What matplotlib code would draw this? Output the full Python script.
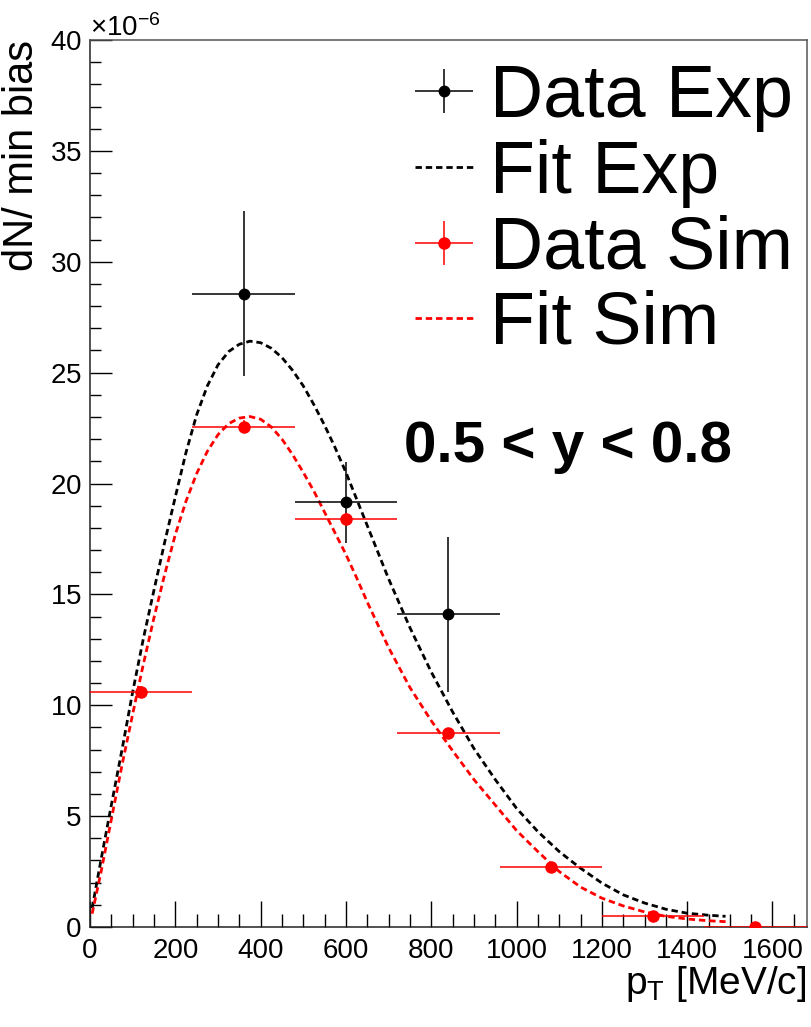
import matplotlib.pyplot as plt
import numpy as np
from matplotlib.ticker import MultipleLocator, ScalarFormatter
from matplotlib.container import ErrorbarContainer
from matplotlib.legend_handler import HandlerErrorbar

plt.rcParams['font.family'] = ['Liberation Sans', 'DejaVu Sans']
plt.rcParams['mathtext.fontset'] = 'custom'
plt.rcParams['mathtext.rm'] = 'Liberation Sans'
plt.rcParams['mathtext.it'] = 'Liberation Sans:italic'
plt.rcParams['mathtext.bf'] = 'Liberation Sans:bold'

# values in units of 1e-6
scale = 1e-6

# bins of 240 MeV/c
pt_exp = [360, 600, 840]
y_exp = [28.55, 19.15, 14.1]
yerr_exp = [3.72, 1.84, 3.5]

pt_sim = [120, 360, 600, 840, 1080, 1320, 1560]
y_sim = [10.6, 22.56, 18.4, 8.75, 2.7, 0.5, 0.02]
yerr_sim = [0.25, 0.3, 0.25, 0.2, 0.15, 0.1, 0.05]
bin_half = 120

# fit curves
pt_fit = [5, 25, 50, 75, 100, 125, 150, 175, 200, 225, 250, 275, 300, 325,
          350, 375, 400, 425, 450, 475, 500, 525, 550, 575, 600, 625, 650,
          700, 750, 800, 850, 900, 950, 1000, 1050, 1100, 1150, 1200, 1250,
          1300, 1350, 1400, 1450, 1490]
fit_exp = [0.85, 2.95, 5.5, 8.0, 10.6, 13.0, 15.2, 17.35, 19.4, 21.4, 23.1,
           24.4, 25.35, 25.95, 26.28, 26.42, 26.35, 26.1, 25.68, 25.1, 24.4,
           23.55, 22.62, 21.6, 20.5, 19.3, 18.1, 15.7, 13.5, 11.5, 9.7, 8.05,
           6.65, 5.35, 4.3, 3.4, 2.65, 1.98, 1.45, 1.08, 0.8, 0.62, 0.53, 0.48]
fit_sim = [0.6, 2.4, 4.85, 7.3, 9.6, 11.85, 13.95, 15.9, 17.7, 19.2, 20.45,
           21.45, 22.2, 22.7, 22.95, 23.02, 22.9, 22.55, 22.0, 21.3, 20.5,
           19.65, 18.7, 17.75, 16.8, 15.75, 14.65, 12.6, 10.8, 9.3, 7.95,
           6.65, 5.5, 4.35, 3.4, 2.5, 1.8, 1.3, 0.95, 0.68, 0.48, 0.36, 0.28,
           0.24]

fig = plt.figure(figsize=(8.11, 10.27), dpi=100)
ax = fig.add_axes([0.111, 0.0974, 0.8836, 0.8636])

h_dexp = ax.errorbar(pt_exp, np.array(y_exp) * scale, xerr=bin_half,
                     yerr=np.array(yerr_exp) * scale, fmt='o', color='black',
                     ms=7.5, elinewidth=1.1, capsize=0, zorder=4)
h_fexp, = ax.plot(pt_fit, np.array(fit_exp) * scale, color='black', lw=2.0,
                  ls=(0, (2.3, 1.4)), zorder=3)
h_dsim = ax.errorbar(pt_sim, np.array(y_sim) * scale, xerr=bin_half,
                     yerr=np.array(yerr_sim) * scale, fmt='o', color='red',
                     ms=8, elinewidth=1.1, capsize=0, zorder=4)
h_fsim, = ax.plot(pt_fit, np.array(fit_sim) * scale, color='red', lw=2.0,
                  ls=(0, (2.3, 1.4)), zorder=3)

ax.set_xlim(0, 1680)
ax.set_ylim(0, 40e-6)

ax.xaxis.set_major_locator(MultipleLocator(200))
ax.xaxis.set_minor_locator(MultipleLocator(50))
ax.yaxis.set_major_locator(MultipleLocator(5e-6))
ax.yaxis.set_minor_locator(MultipleLocator(1e-6))
fmt = ScalarFormatter(useMathText=True)
fmt.set_powerlimits((-6, -6))
ax.yaxis.set_major_formatter(fmt)
ax.yaxis.get_offset_text().set_fontsize(20)

ax.tick_params(axis='both', which='both', direction='in', top=False,
               right=False, labelsize=20, width=1.0)
ax.tick_params(axis='x', which='major', length=19, pad=8)
ax.tick_params(axis='x', which='minor', length=9.5)
ax.tick_params(axis='y', which='major', length=15.5, pad=6)
ax.tick_params(axis='y', which='minor', length=7.7)
for side in ['top', 'right']:
    ax.spines[side].set_linewidth(1.1)
    ax.spines[side].set_color('#555555')
for side in ['left', 'bottom']:
    ax.spines[side].set_linewidth(1.1)
    ax.spines[side].set_color('#222222')

ax.set_xlabel(r'p$_{\mathrm{T}}$ [MeV/c]', fontsize=28, loc='right', labelpad=0)
ax.set_ylabel('dN/ min bias', fontsize=30, loc='top', labelpad=6)

ax.text(736, 20.97e-6, '0.5 < y < 0.8', fontsize=42, fontweight='bold',
        va='baseline', ha='left')

ax.legend([h_dexp, h_fexp, h_dsim, h_fsim],
          ['Data Exp', 'Fit Exp', 'Data Sim', 'Fit Sim'],
          loc='upper left', bbox_to_anchor=(0.4535, 0.974), frameon=False,
          fontsize=53, borderpad=0, borderaxespad=0, handlelength=0.79,
          handletextpad=0.23, labelspacing=0.09,
          handler_map={ErrorbarContainer: HandlerErrorbar(xerr_size=0.39,
                                                          yerr_size=0.3)})

fig.savefig('out.png', dpi=100)
